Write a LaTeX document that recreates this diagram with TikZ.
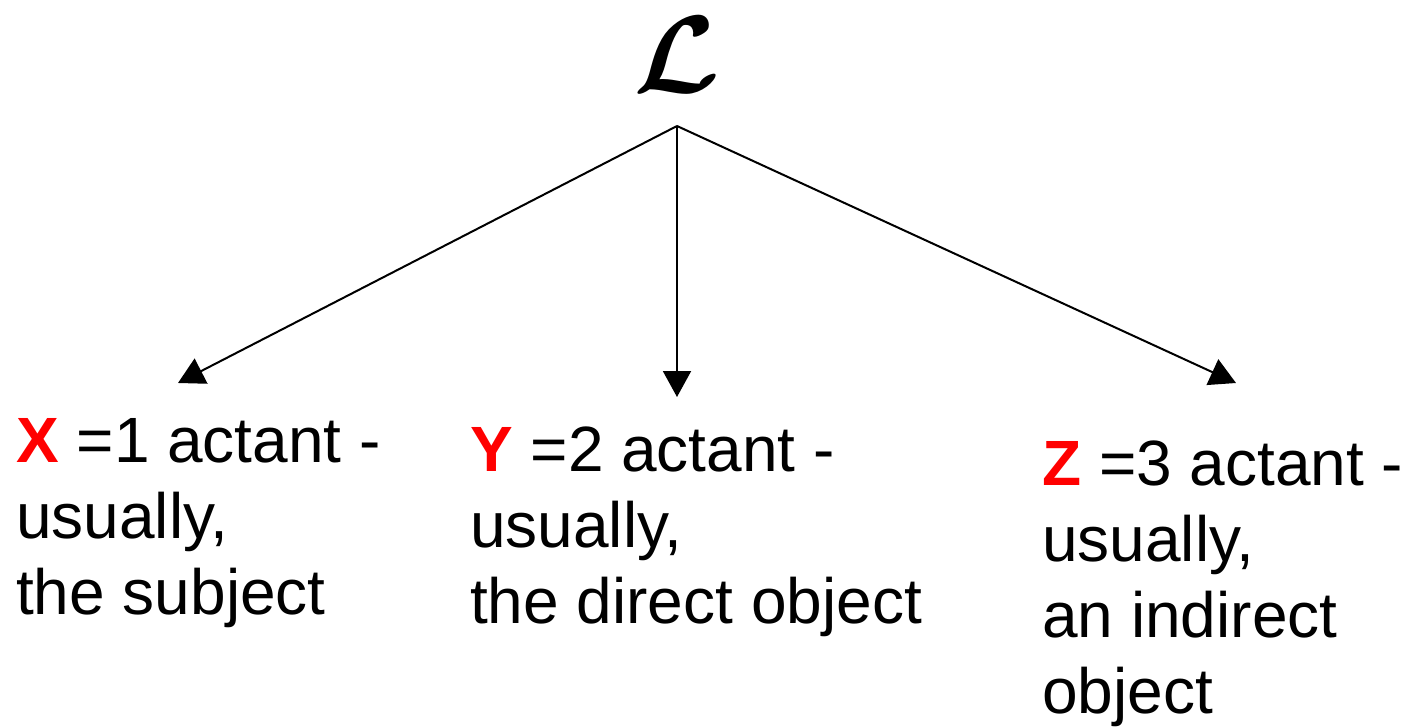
\documentclass[tikz,border=0pt]{standalone}
\usepackage{fontspec}
\setmainfont{Liberation Sans}
\usetikzlibrary{arrows.meta}
\definecolor{actred}{RGB}{255,0,0}
\newcommand{\actvar}[1]{{\color{actred}\bfseries #1}}
\begin{document}
\begin{tikzpicture}[x=1pt,y=-1pt,
  conn/.style={draw=black, line width=2pt, -{Triangle[length=26pt,width=28pt]}},
  actant/.style={anchor=base west, inner sep=0pt, align=left, font=\fontsize{64}{76}\selectfont}]
\useasboundingbox (0,0) rectangle (1414,727);
\node[anchor=base, inner sep=0pt] (L) at (677,93) {\scalebox{11}{\boldmath$\mathcal{L}$}};
\coordinate (root) at (677,126);
\coordinate (tipX) at (178,383);
\coordinate (tipY) at (677,397);
\coordinate (tipZ) at (1236,383);
\draw[conn] (root) -- (tipX);
\draw[conn] (root) -- (tipY);
\draw[conn] (root) -- (tipZ);
\node[actant] (X) at (16,614) {\actvar{X} =1 actant -\\usually,\\the subject};
\node[actant] (Y) at (470,623) {\actvar{Y} =2 actant -\\usually,\\the direct object};
\node[actant] (Z) at (1042,713) {\actvar{Z} =3 actant -\\usually,\\an indirect\\object};
\end{tikzpicture}
\end{document}
